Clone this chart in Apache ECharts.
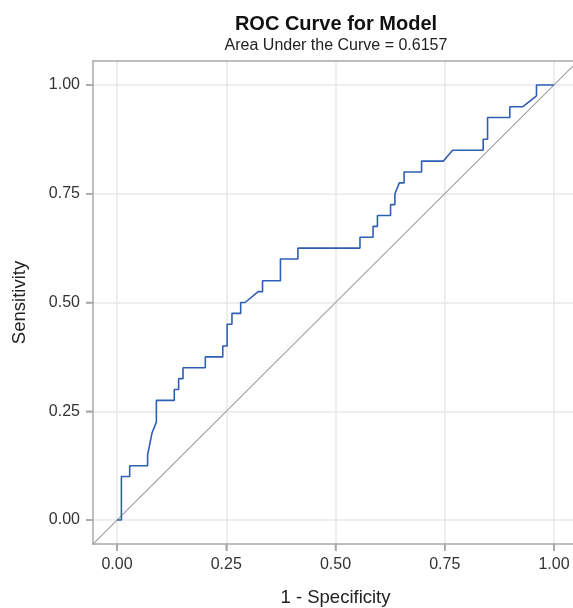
<!DOCTYPE html>
<html>
<head>
<meta charset="utf-8">
<script src="https://cdn.jsdelivr.net/npm/echarts@6/dist/echarts.min.js"></script>
<style>html,body{margin:0;padding:0;background:#fff;}#c{width:573px;height:608px;}</style>
</head>
<body>
<div id="c"></div>
<script>
const fpr = [0,0.01,0.01,0.029,0.029,0.07,0.07,0.08,0.09,0.09,0.131,0.131,0.141,0.141,0.151,0.151,0.202,0.202,0.242,0.242,0.252,0.252,0.263,0.263,0.283,0.283,0.293,0.323,0.333,0.333,0.374,0.374,0.414,0.414,0.556,0.556,0.586,0.586,0.596,0.596,0.626,0.626,0.636,0.636,0.646,0.657,0.657,0.697,0.697,0.747,0.768,0.838,0.838,0.848,0.848,0.899,0.899,0.929,0.96,0.96,1.0];
const tpr = [0,0,0.1,0.1,0.125,0.125,0.15,0.2,0.225,0.275,0.275,0.3,0.3,0.325,0.325,0.35,0.35,0.375,0.375,0.4,0.4,0.45,0.45,0.475,0.475,0.5,0.5,0.525,0.525,0.55,0.55,0.6,0.6,0.625,0.625,0.65,0.65,0.675,0.675,0.7,0.7,0.725,0.725,0.75,0.775,0.775,0.8,0.8,0.825,0.825,0.85,0.85,0.875,0.875,0.925,0.925,0.95,0.95,0.975,1.0,1.0];
const diagX = [-0.1, 1.1];
const diagY = [-0.1, 1.1];
const tickValues = [0, 0.25, 0.5, 0.75, 1.0];
const titleText = 'ROC Curve for Model';
const subtitleText = 'Area Under the Curve = 0.6157';
const xName = '1 - Specificity';
const yName = 'Sensitivity';

const AX_MIN = -0.055, AX_MAX = 1.055;
const font = 'Liberation Sans, Arial, sans-serif';
const chart = echarts.init(document.getElementById('c'), null, {renderer: 'canvas'});
function axisCommon() {
  return {
    type: 'value',
    min: AX_MIN,
    max: AX_MAX,
    axisLine: {show: true, onZero: false, lineStyle: {color: '#a8a8a8', width: 1.5}},
    axisTick: {show: true, inside: false, length: 7, customValues: tickValues, lineStyle: {color: '#a8a8a8', width: 1.5}},
    axisLabel: {show: true, customValues: tickValues, color: '#333', fontSize: 16, fontFamily: font, margin: 13,
      formatter: v => v.toFixed(2)},
    splitLine: {show: true, lineStyle: {color: '#e8e8e8', width: 1.5}},
    nameLocation: 'middle',
    nameMoveOverlap: false,
    nameTextStyle: {color: '#222', fontSize: 18.5, fontFamily: font}
  };
}
const xa = Object.assign(axisCommon(), {name: xName, nameGap: 44});
const xTop = {type: 'value', position: 'top', min: AX_MIN, max: AX_MAX,
  axisLine: {show: true, onZero: false, lineStyle: {color: '#a8a8a8', width: 1.5}},
  axisTick: {show: false}, axisLabel: {show: false}, splitLine: {show: false}};
const ya = Object.assign(axisCommon(), {name: yName, nameGap: 64});

function tickRenderer(dir) {
  return function (params, api) {
    const p = api.coord([api.value(0), api.value(1)]);
    const q = dir === 'x' ? [p[0], p[1] + 7] : [p[0] - 7, p[1]];
    return {type: 'line', shape: {x1: p[0], y1: p[1], x2: q[0], y2: q[1]},
      style: {stroke: '#a8a8a8', lineWidth: 1.5}};
  };
}

chart.setOption({
  animation: false,
  title: [
    {text: titleText, left: 331, top: 9, textAlign: 'center',
     textStyle: {fontSize: 20, fontWeight: 'bold', color: '#111', fontFamily: font}},
    {text: subtitleText, left: 331, top: 33, textAlign: 'center',
     textStyle: {fontSize: 16, fontWeight: 'normal', color: '#222', fontFamily: font}}
  ],
  grid: {left: 93, top: 61, right: -5, bottom: 64,
    outerBounds: {left: -200, right: -200, top: -200, bottom: -200},
    show: false},
  xAxis: [xa, xTop],
  yAxis: ya,
  series: [
    {type: 'line', data: diagX.map((x, i) => [x, diagY[i]]), symbol: 'none', clip: true,
     lineStyle: {color: '#a0a0a0', width: 1.2}, silent: true},
    {type: 'line', data: fpr.map((x, i) => [x, tpr[i]]), symbol: 'none', clip: true,
     lineStyle: {color: '#2f5fb3', width: 1.6}},
    {type: 'custom', clip: false, silent: true, renderItem: tickRenderer('x'),
     data: tickValues.map(v => [v, AX_MIN])},
    {type: 'custom', clip: false, silent: true, renderItem: tickRenderer('y'),
     data: tickValues.map(v => [AX_MIN, v])}
  ]
});
</script>
</body>
</html>
